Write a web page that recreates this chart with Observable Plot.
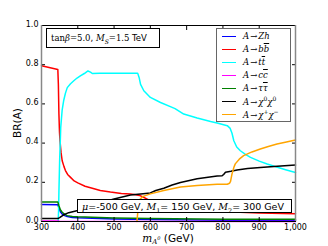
<!DOCTYPE html>
<html><head><meta charset="utf-8">
<script src="https://cdn.jsdelivr.net/npm/d3@7"></script>
<script src="https://cdn.jsdelivr.net/npm/@observablehq/plot@0.6"></script>
<style>
body{margin:0;background:#fff;}
#wrap{position:relative;width:328px;height:246px;overflow:hidden;font-family:"DejaVu Sans",sans-serif;}
#wrap svg{position:absolute;left:0;top:0;}
.box{position:absolute;background:#fff;border:1px solid #000;box-sizing:border-box;white-space:nowrap;line-height:1;}
.m{font-family:"DejaVu Serif",serif;font-style:italic;}
.r{font-family:"DejaVu Serif",serif;font-style:normal;}
.lab{position:absolute;white-space:nowrap;line-height:1;color:#000;}
#legend{position:absolute;left:216px;top:28px;width:75px;height:94px;background:#fff;border:1px solid #666;box-sizing:border-box;}
.row{position:absolute;left:0;height:13px;display:flex;align-items:center;font-family:"DejaVu Serif",serif;font-style:italic;font-size:8.5px;}
.sw{display:inline-block;width:14px;height:0;border-top:1.6px solid;margin-left:5px;margin-right:7px;}
.ar{font-style:normal;margin:0 1px;}
</style></head>
<body><div id="wrap"></div>
<script>
// ---- data ----
const xTicks = [300, 400, 500, 600, 700, 800, 900, 1000];
const yTicks = [0, 0.2, 0.4, 0.6, 0.8, 1.0];

const zhMass = [300, 345, 348, 352, 357, 364, 371, 385, 400, 500, 600, 800, 1000];
const zhBR   = [0.087, 0.086, 0.07, 0.05, 0.038, 0.03, 0.025, 0.021, 0.019, 0.013, 0.01, 0.007, 0.006];

const bbMass = [300, 345, 346.5, 348, 349.5, 351, 354, 357, 362, 366, 372, 380, 390, 400, 420, 440, 462, 490, 520, 545, 560, 570, 580, 590, 600, 650, 700, 800, 820, 830, 900, 1000];
const bbBR   = [0.795, 0.776, 0.70, 0.55, 0.46, 0.41, 0.35, 0.31, 0.28, 0.26, 0.24, 0.225, 0.207, 0.197, 0.18, 0.17, 0.158, 0.15, 0.143, 0.14, 0.137, 0.133, 0.125, 0.115, 0.105, 0.08, 0.07, 0.062, 0.055, 0.048, 0.044, 0.04];

const ttMass = [346, 347, 348, 350, 353, 357, 361, 366, 371, 380, 389, 398, 407, 418, 428, 435, 440, 460, 500, 540, 565, 569, 573, 582, 600, 628, 660, 668, 692, 729, 766, 784, 812, 820, 825, 830, 838, 848, 862, 876, 900, 922, 950, 975, 1000];
const ttBR   = [0, 0.05, 0.15, 0.31, 0.48, 0.57, 0.616, 0.655, 0.683, 0.703, 0.718, 0.732, 0.743, 0.755, 0.768, 0.762, 0.755, 0.756, 0.757, 0.757, 0.757, 0.735, 0.70, 0.667, 0.633, 0.607, 0.582, 0.576, 0.548, 0.528, 0.51, 0.503, 0.489, 0.475, 0.45, 0.412, 0.38, 0.361, 0.342, 0.327, 0.308, 0.293, 0.277, 0.263, 0.25];

const ccMass = [300, 345, 350, 1000];
const ccBR   = [0.003, 0.003, 0.001, 0.0005];

const tauMass = [300, 345, 348, 352, 357, 364, 371, 385, 400, 500, 600, 800, 1000];
const tauBR   = [0.1, 0.099, 0.08, 0.06, 0.047, 0.036, 0.03, 0.026, 0.024, 0.018, 0.015, 0.012, 0.011];

const n0Mass = [300, 345, 350, 360, 375, 400, 450, 500, 545, 580, 600, 615, 637, 660, 683, 729, 784, 798, 802, 807, 822, 839, 868, 903, 950, 1000];
const n0BR   = [0.015, 0.015, 0.02, 0.033, 0.045, 0.056, 0.09, 0.115, 0.135, 0.142, 0.146, 0.158, 0.17, 0.186, 0.199, 0.218, 0.232, 0.234, 0.24, 0.251, 0.256, 0.263, 0.27, 0.276, 0.282, 0.288];

const cMass = [563, 565, 568, 572, 580, 600, 637, 683, 729, 784, 812, 818, 821, 825, 830, 834, 845, 857, 880, 903, 925, 949, 975, 1000];
const cBR   = [0, 0.04, 0.09, 0.115, 0.128, 0.141, 0.158, 0.176, 0.184, 0.19, 0.19, 0.195, 0.205, 0.243, 0.275, 0.294, 0.318, 0.336, 0.355, 0.37, 0.383, 0.395, 0.406, 0.416];

const seriesNames  = ["Zh", "bb", "tt", "cc", "tautau", "chi0chi0", "chipchim"];
const seriesColors = ["#0000ff", "#ff0000", "#00ffff", "#ff00ff", "#008000", "#000000", "#ffa500"];
const seriesMass   = [zhMass, bbMass, ttMass, ccMass, tauMass, n0Mass, cMass];
const seriesBR     = [zhBR, bbBR, ttBR, ccBR, tauBR, n0BR, cBR];
const legendLabels = [
  'A<span class="ar">→</span>Zh',
  'A<span class="ar">→</span>b<span style="text-decoration:overline">b</span>',
  'A<span class="ar">→</span>t<span style="text-decoration:overline">t</span>',
  'A<span class="ar">→</span>c<span style="text-decoration:overline">c</span>',
  'A<span class="ar">→</span>τ<span style="text-decoration:overline">τ</span>',
  'A<span class="ar">→</span>χ<sup style="font-size:6px;font-style:normal">0</sup>χ<sup style="font-size:6px;font-style:normal">0</sup>',
  'A<span class="ar">→</span>χ<sup style="font-size:6px;font-style:normal">+</sup>χ<sup style="font-size:6px;font-style:normal">−</sup>'
];

const lineMarks = seriesNames.map((name, k) =>
  Plot.line(seriesMass[k].map((m, i) => ({m, br: seriesBR[k][i]})),
    {x: "m", y: "br", stroke: seriesColors[k], strokeWidth: 1.5}));

const plot = Plot.plot({
  width: 328, height: 246,
  marginLeft: 41, marginRight: 33, marginTop: 25, marginBottom: 25,
  style: {fontFamily: "DejaVu Sans, sans-serif", fontSize: "8px", background: "#fff", color: "#000"},
  x: {domain: [300, 1000]},
  y: {domain: [0, 1]},
  marks: [
    ...lineMarks,
    Plot.axisX(xTicks, {anchor: "bottom", tickSize: 0, tickPadding: 3, label: null, fontSize: 8}),
    Plot.axisY(yTicks, {anchor: "left", tickSize: 0, tickPadding: 3, dy: -1.5, label: null, fontSize: 8, tickFormat: d3.format(".1f")}),
    Plot.axisX(xTicks, {anchor: "bottom", tickSize: -4, tickFormat: () => "", label: null}),
    Plot.axisX(xTicks, {anchor: "top", tickSize: -4, tickFormat: () => "", label: null}),
    Plot.axisY(yTicks, {anchor: "left", tickSize: -4, tickFormat: () => "", label: null}),
    Plot.axisY(yTicks, {anchor: "right", tickSize: -4, tickFormat: () => "", label: null}),
    Plot.frame({stroke: "#000", strokeWidth: 1}),
    Plot.ruleX(d3.extent(xTicks), {stroke: "#888", strokeWidth: 1.5})
  ]
});

const wrap = document.getElementById("wrap");
wrap.appendChild(plot);

function addDiv(cls, html, css) {
  const d = document.createElement("div");
  d.className = cls; d.innerHTML = html; d.style.cssText = css;
  wrap.appendChild(d); return d;
}

// annotation boxes
addDiv("box", '<span class="r">tan</span><span class="m">β</span><span class="r">=5.0</span>, <span class="m">M<sub style="font-size:6px">S</sub></span><span class="r">=1.5</span> TeV',
  "left:46px;top:28px;width:114px;height:20px;font-size:8.5px;padding:5px 0 0 4px;");
addDiv("box", '<span class="m">μ</span>=-500 GeV, <span class="m">M</span><sub style="font-size:6.5px" class="r">1</sub>= 150 GeV, <span class="m">M</span><sub style="font-size:6.5px" class="r">2</sub>= 300 GeV',
  "left:77px;top:199px;width:215px;height:14px;font-size:9.5px;padding:2px 0 0 4px;");

// legend
const leg = addDiv("", "", "");
leg.id = "legend";
seriesNames.forEach((name, k) => {
  const r = document.createElement("div");
  r.className = "row";
  r.style.top = (0.5 + k * 13.05) + "px";
  r.innerHTML = `<span class="sw" style="border-color:${seriesColors[k]}"></span><span>${legendLabels[k]}</span>`;
  leg.appendChild(r);
});

// axis labels
addDiv("lab", "BR(A)", "left:17px;top:123px;font-size:10.5px;transform:translate(-50%,-50%) rotate(-90deg);");
addDiv("lab", '<span class="m">m</span><span class="m" style="font-size:7px;vertical-align:-1.5px;line-height:0">A<span style="font-size:5px;vertical-align:4px;line-height:0">0</span></span> (GeV)', "left:168px;top:233px;height:12px;font-size:10.5px;transform:translate(-50%,0);");
</script></body></html>
